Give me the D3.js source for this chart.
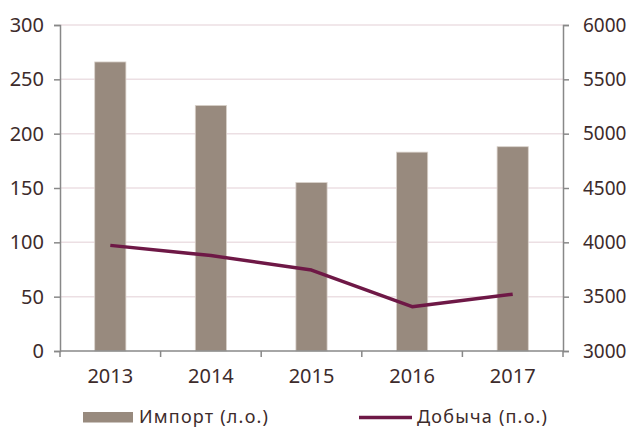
<!DOCTYPE html>
<html>
<head>
<meta charset="utf-8">
<script src="https://cdn.jsdelivr.net/npm/d3@7"></script>
<style>
  body { margin: 0; background: #fff; }
  text { font-family: "Noto Sans", sans-serif; fill: #3d2b2b; }
</style>
</head>
<body>
<div id="chart"></div>
<script>
// data
var years = ["2013", "2014", "2015", "2016", "2017"];
var importVals = [266, 226, 155, 183, 188];      // left axis
var dobychaVals = [3972, 3878, 3745, 3408, 3522]; // right axis
var leftTicks = [0, 50, 100, 150, 200, 250, 300];
var rightTicks = [3000, 3500, 4000, 4500, 5000, 5500, 6000];
var legendNames = ["Импорт (л.о.)", "Добыча (п.о.)"];

var W = 631, H = 429;
var plotL = 60, plotR = 563, plotT = 25, plotB = 351;

var svg = d3.select("#chart").append("svg")
    .attr("width", W)
    .attr("height", H);

var x = d3.scaleBand().domain(years).range([plotL, plotR]);
var yL = d3.scaleLinear().domain([0, 300]).range([plotB, plotT]);
var yR = d3.scaleLinear().domain([3000, 6000]).range([plotB, plotT]);

// grid
svg.append("g").selectAll("line")
    .data(leftTicks.slice(1))
    .enter().append("line")
    .attr("x1", plotL).attr("x2", plotR)
    .attr("y1", function(d) { return yL(d); })
    .attr("y2", function(d) { return yL(d); })
    .attr("stroke", "#ecdfe3")
    .attr("stroke-width", 1.5);

// bars
var bw = x.bandwidth() * 0.31;
svg.append("g").selectAll("rect")
    .data(importVals)
    .enter().append("rect")
    .attr("x", function(d, i) { return x(years[i]) + x.bandwidth() / 2 - bw / 2; })
    .attr("y", function(d) { return yL(d); })
    .attr("width", bw)
    .attr("height", function(d) { return plotB - yL(d); })
    .attr("fill", "#988a7e")
    .attr("stroke", "#d9d1ca")
    .attr("stroke-width", 0.8);

// axes
var axL = svg.append("g")
    .attr("transform", "translate(" + plotL + ",0)")
    .call(d3.axisLeft(yL).tickValues(leftTicks).tickSize(6).tickPadding(10));
var axR = svg.append("g")
    .attr("transform", "translate(" + plotR + ",0)")
    .call(d3.axisRight(yR).tickValues(rightTicks).tickFormat(d3.format("d"))
      .tickSize(6).tickPadding(14));
var axB = svg.append("g")
    .attr("transform", "translate(0," + plotB + ")")
    .call(d3.axisBottom(x).tickSize(0).tickPadding(18));

// ticks at band boundaries on the x axis
svg.append("g").selectAll("line")
    .data(d3.range(years.length + 1))
    .enter().append("line")
    .attr("x1", function(i) { return plotL + i * x.step(); })
    .attr("x2", function(i) { return plotL + i * x.step(); })
    .attr("y1", plotB).attr("y2", plotB + 6)
    .attr("stroke", "#888")
    .attr("stroke-width", 1.5);

[axL, axR, axB].forEach(function(a) {
  a.select(".domain").attr("stroke", "#888").attr("stroke-width", 1.5);
  a.selectAll(".tick line").attr("stroke", "#888").attr("stroke-width", 1.5);
  a.selectAll("text").attr("font-size", "20px").attr("fill", "#3d2b2b")
    .attr("font-family", "Noto Sans, sans-serif");
});
axR.selectAll("text").attr("font-size", "19px");
axB.select(".domain").attr("d", "M" + plotL + ",0H" + plotR);

// line
var line = d3.line()
    .x(function(d, i) { return x(years[i]) + x.bandwidth() / 2; })
    .y(function(d) { return yR(d); });
svg.append("path")
    .datum(dobychaVals)
    .attr("d", line)
    .attr("fill", "none")
    .attr("stroke", "#6e1846")
    .attr("stroke-width", 3.5)
    .attr("stroke-linejoin", "round");

// legend
var lg = svg.append("g");
lg.append("rect")
    .attr("x", 83).attr("y", 412)
    .attr("width", 50).attr("height", 10.5)
    .attr("fill", "#988a7e");
lg.append("text")
    .attr("x", 139).attr("y", 423)
    .attr("font-size", "18px")
    .attr("letter-spacing", "1.2px")
    .text(legendNames[0]);
lg.append("line")
    .attr("x1", 359).attr("x2", 412)
    .attr("y1", 417.5).attr("y2", 417.5)
    .attr("stroke", "#6e1846")
    .attr("stroke-width", 3.5);
lg.append("text")
    .attr("x", 417).attr("y", 423)
    .attr("font-size", "18px")
    .attr("letter-spacing", "1.2px")
    .text(legendNames[1]);
</script>
</body>
</html>
